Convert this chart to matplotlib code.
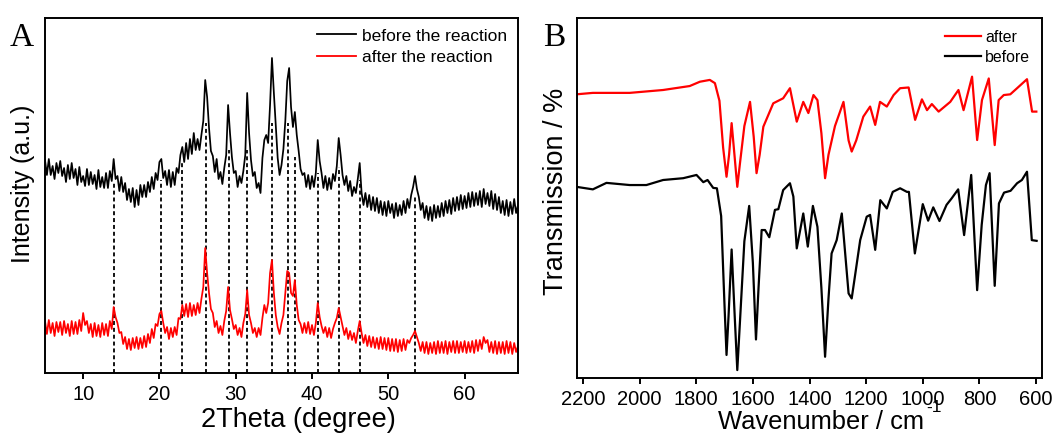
import numpy as np
import matplotlib
matplotlib.use("Agg")
import matplotlib.pyplot as plt

plt.rcParams['font.family'] = ['Liberation Sans', 'DejaVu Sans']

# ---- Panel A: XRD (2theta sampled every 0.25 degree, 5 .. 67) ----
two_theta = np.arange(5.0, 67.001, 0.25)

xrd_before = [
    213, 198, 214, 198, 207, 194, 210, 200,
    212, 197, 205, 191, 208, 194, 210, 195,
    204, 188, 206, 191, 197, 187, 204, 188,
    201, 189, 198, 184, 203, 186, 196, 185,
    200, 185, 202, 192, 214, 194, 197, 182,
    196, 181, 190, 173, 184, 171, 185, 166,
    183, 168, 188, 176, 188, 176, 191, 181,
    196, 184, 200, 193, 211, 214, 195, 202,
    188, 203, 186, 201, 188, 205, 200, 218,
    226, 211, 230, 214, 234, 219, 240, 223,
    234, 223, 238, 252, 293, 276, 245, 222,
    217, 201, 214, 194, 201, 189, 205, 218,
    268, 240, 216, 200, 202, 186, 197, 190,
    202, 218, 280, 240, 213, 197, 201, 185,
    190, 180, 215, 233, 238, 230, 268, 315,
    280, 248, 215, 198, 208, 224, 252, 292,
    305, 266, 246, 261, 238, 222, 204, 198,
    200, 186, 198, 184, 197, 186, 200, 233,
    212, 200, 185, 197, 183, 195, 184, 199,
    192, 207, 235, 218, 198, 188, 197, 182,
    192, 177, 186, 180, 194, 210, 180, 168,
    180, 166, 178, 163, 176, 162, 175, 160,
    172, 158, 171, 157, 172, 160, 169, 155,
    170, 157, 168, 158, 172, 160, 174, 165,
    178, 186, 197, 184, 176, 163, 170, 155,
    167, 153, 166, 152, 168, 155, 167, 156,
    170, 157, 172, 160, 173, 159, 175, 162,
    176, 163, 178, 164, 177, 165, 180, 166,
    181, 167, 180, 168, 182, 166, 184, 169,
    180, 167, 182, 164, 179, 163, 176, 160,
    172, 158, 173, 157, 171, 159, 174, 160, 168,
]

xrd_after = [
    52, 39, 53, 40, 50, 37, 51, 41,
    51, 38, 52, 40, 49, 37, 52, 39,
    51, 39, 53, 42, 60, 48, 52, 40,
    49, 36, 50, 37, 48, 36, 50, 38,
    49, 37, 52, 44, 66, 56, 50, 40,
    41, 29, 36, 24, 34, 23, 35, 25,
    36, 24, 35, 25, 37, 26, 39, 30,
    44, 35, 49, 47, 59, 62, 50, 40,
    46, 34, 45, 36, 46, 38, 55, 54,
    68, 57, 69, 56, 70, 57, 68, 58,
    70, 60, 74, 86, 125, 100, 80, 64,
    60, 46, 52, 40, 47, 38, 52, 62,
    86, 63, 54, 44, 48, 38, 45, 36,
    50, 59, 83, 58, 50, 40, 45, 36,
    45, 38, 55, 68, 60, 70, 100, 113,
    80, 58, 46, 39, 50, 58, 80, 102,
    100, 80, 77, 93, 68, 53, 49, 40,
    50, 40, 51, 39, 48, 38, 50, 70,
    56, 47, 40, 46, 36, 45, 35, 44,
    50, 55, 65, 56, 47, 38, 45, 34,
    42, 33, 40, 30, 42, 52, 40, 30,
    38, 27, 37, 26, 36, 25, 35, 24,
    36, 24, 35, 23, 35, 22, 34, 22,
    34, 21, 33, 22, 34, 23, 33, 30,
    35, 38, 42, 36, 30, 22, 31, 20,
    31, 19, 30, 20, 31, 19, 32, 20,
    31, 20, 32, 19, 31, 21, 32, 20,
    32, 20, 31, 21, 32, 20, 31, 21,
    32, 20, 33, 22, 33, 24, 36, 30,
    33, 21, 31, 20, 32, 19, 31, 20,
    31, 19, 32, 20, 31, 19, 30, 21, 27,
]

# reflections marked with dashed guide lines (position, top of the line)
peak_pos = [14.0, 20.2, 23.0, 26.1, 29.1, 31.5, 34.7, 36.9, 37.8, 40.8, 43.6, 46.3, 53.5]
peak_top = [190, 193, 210, 250, 223, 223, 250, 250, 216, 200, 206, 193, 176]

# ---- Panel B: FTIR ----
wn_before = [2223, 2165, 2117, 2035, 1976, 1917, 1846, 1799, 1775, 1760, 1740, 1727,
             1712, 1700, 1693, 1686, 1675, 1664, 1655, 1646, 1630, 1613, 1600, 1589,
             1580, 1569, 1557, 1542, 1522, 1510, 1493, 1469, 1457, 1445, 1422, 1406,
             1388, 1372, 1358, 1345, 1333, 1322, 1304, 1286, 1262, 1251, 1240, 1221,
             1198, 1186, 1168, 1150, 1127, 1106, 1080, 1056, 1049, 1028, 1000, 981,
             963, 941, 916, 898, 875, 854, 829, 808, 792, 777, 764, 746, 731, 713,
             690, 667, 650, 632, 615, 598]
tr_before = [53.1, 52.4, 54.2, 53.6, 53.6, 55.0, 55.5, 56.4, 54.4, 55.0, 52.8, 52.7,
             45.0, 20.0, 6.4, 17.0, 35.7, 17.0, 2.2, 15.0, 38.0, 47.8, 32.0, 10.7,
             25.0, 41.1, 41.1, 39.1, 46.7, 46.9, 52.2, 54.1, 50.4, 36.0, 45.7, 36.5,
             47.8, 42.0, 25.0, 5.9, 22.0, 34.6, 38.3, 45.7, 23.5, 22.1, 28.0, 38.3,
             44.8, 45.3, 35.6, 49.4, 47.1, 51.7, 52.7, 51.7, 51.7, 34.6, 48.3, 43.7,
             47.4, 43.6, 48.1, 49.9, 52.4, 39.7, 56.4, 24.4, 42.5, 53.6, 56.9, 25.6,
             48.5, 51.5, 52.0, 54.1, 55.0, 57.3, 38.3, 38.1]

wn_after = [2223, 2165, 2035, 1917, 1823, 1787, 1752, 1734, 1718, 1705, 1693, 1684,
            1675, 1665, 1655, 1645, 1630, 1610, 1597, 1587, 1576, 1563, 1528, 1493,
            1469, 1445, 1422, 1404, 1386, 1372, 1358, 1345, 1333, 1310, 1280, 1262,
            1251, 1235, 1210, 1186, 1168, 1151, 1127, 1103, 1080, 1050, 1027, 1003,
            985, 968, 944, 903, 874, 856, 826, 808, 791, 767, 746, 732, 714, 691,
            667, 632, 614, 599]
tr_after = [78.8, 79.2, 79.2, 80.0, 81.1, 82.3, 82.8, 81.9, 77.0, 64.0, 55.9, 62.0,
            70.8, 62.0, 53.1, 60.0, 70.0, 76.7, 67.0, 56.9, 62.0, 69.8, 76.3, 77.7,
            80.5, 71.2, 76.7, 73.6, 78.6, 77.2, 68.0, 55.5, 62.0, 70.0, 76.7, 66.0,
            62.9, 66.0, 72.6, 75.4, 70.3, 76.7, 75.4, 78.6, 80.5, 80.7, 71.7, 77.4,
            74.4, 76.1, 74.0, 76.7, 80.0, 74.4, 83.7, 66.1, 77.2, 83.2, 64.7, 77.2,
            78.6, 78.8, 80.5, 83.0, 74.0, 74.0]

W, H = 1064, 433
fig = plt.figure(figsize=(W / 100, H / 100), dpi=100)
axA = fig.add_axes([45 / W, 1 - 373 / H, (518 - 45) / W, (373 - 18) / H])
axB = fig.add_axes([577 / W, 1 - 378 / H, (1042 - 577) / W, (378 - 18) / H])

# panel A
axA.vlines(peak_pos, 0, peak_top, colors='black', linestyles=(0, (2.2, 1.6)),
           linewidth=1.3, zorder=1)
axA.plot(two_theta, xrd_before, color='black', lw=1.25, label='before the reaction', zorder=2)
axA.plot(two_theta, xrd_after, color='#ff0000', lw=1.25, label='after the reaction', zorder=2)
axA.set_xlim(5, 67)
axA.set_ylim(0, 355)
axA.set_xticks([10, 20, 30, 40, 50, 60])
axA.set_yticks([])
axA.set_xlabel('2Theta (degree)', fontsize=19.5, labelpad=2)
axA.xaxis.label.set_x(0.5 + 17 / 473)
axA.set_ylabel('Intensity (a.u.)', fontsize=18, labelpad=7)
axA.yaxis.label.set_y(0.5 + 12 / 355)
legA = axA.legend(loc='upper right', frameon=False, fontsize=12.5, handlelength=2.2,
                  handletextpad=0.4, labelspacing=0.35, borderaxespad=0.05,
                  borderpad=0.55)
for h in legA.get_lines():
    h.set_linewidth(1.3)

# panel B
axB.plot(wn_after, tr_after, color='#ff0000', lw=1.6, label='after')
axB.plot(wn_before, tr_before, color='black', lw=1.6, label='before')
axB.set_xlim(2221, 579)
axB.set_ylim(0, 100)
axB.set_xticks([2200, 2000, 1800, 1600, 1400, 1200, 1000, 800, 600])
axB.set_yticks([])
axB.set_xlabel('Wavenumber / cm', fontsize=18.4, labelpad=1)
axB.xaxis.label.set_x(0.5 + 11 / 465)
axB.set_ylabel('Transmission / %', fontsize=19.5, labelpad=6)
axB.yaxis.label.set_y(0.5 + 6.5 / 360)
axB.legend(loc='upper right', frameon=False, fontsize=11.4, handlelength=2.3,
           handletextpad=0.25, labelspacing=0.32, borderaxespad=0.35, borderpad=0.4)

for ax in (axA, axB):
    for s in ax.spines.values():
        s.set_linewidth(1.4)
    ax.tick_params(axis='x', direction='out', length=4.5, width=1.4, labelsize=14.5, pad=4)

fig.text(926 / W, 1 - 412 / H, '-1', fontsize=12.5)
fig.text(10 / W, 1 - 46 / H, 'A', family='Liberation Serif', fontsize=24)
fig.text(543 / W, 1 - 46 / H, 'B', family='Liberation Serif', fontsize=24)

fig.savefig('out.png', dpi=100)
